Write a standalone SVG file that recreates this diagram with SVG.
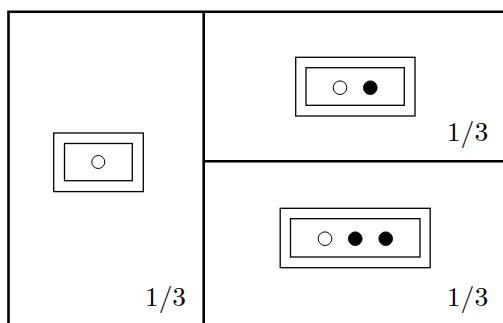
<svg xmlns="http://www.w3.org/2000/svg" width="503" height="323" viewBox="0 0 503 323">
<style>
.panel{fill:none;stroke:#000;stroke-width:2.6}
.box{fill:none;stroke:#000;stroke-width:1.3}
.open{fill:#fff;stroke:#000;stroke-width:1}
.full{fill:#000;stroke:#000;stroke-width:1}
.lbl{font-family:"Latin Modern Roman","Liberation Serif",serif;font-size:27px;fill:#000}
</style>
<rect width="503" height="323" fill="#fff"/>
<g id="panels">
<path class="panel" d="M8.5,323 V11.8 H503 M203.7,11.8 V323 M203.7,161.3 H503"/>
</g>
<g id="left">
<rect class="box" x="53.7" y="133" width="89.6" height="58.6"/>
<rect class="box" x="64.5" y="143.5" width="67.8" height="37.2"/>
<circle class="open" cx="98.3" cy="162" r="6.5"/>
<text class="lbl" x="145" y="305.5" textLength="41" lengthAdjust="spacingAndGlyphs">1/3</text>
</g>
<g id="topright">
<rect class="box" x="295.7" y="57.3" width="119.3" height="58.7"/>
<rect class="box" x="306" y="67.7" width="98.3" height="37.6"/>
<circle class="open" cx="340" cy="87.7" r="6.8"/>
<circle class="full" cx="370.3" cy="87.7" r="6.8"/>
<text class="lbl" x="446.7" y="140.5" textLength="41.6" lengthAdjust="spacingAndGlyphs">1/3</text>
</g>
<g id="bottomright">
<rect class="box" x="280.2" y="208.3" width="150" height="59.4"/>
<rect class="box" x="290.5" y="218.7" width="129.5" height="38.3"/>
<circle class="open" cx="325" cy="238.7" r="6.8"/>
<circle class="full" cx="355.3" cy="238.7" r="6.8"/>
<circle class="full" cx="385.7" cy="238.7" r="6.8"/>
<text class="lbl" x="446.7" y="305.5" textLength="41.6" lengthAdjust="spacingAndGlyphs">1/3</text>
</g>
</svg>
